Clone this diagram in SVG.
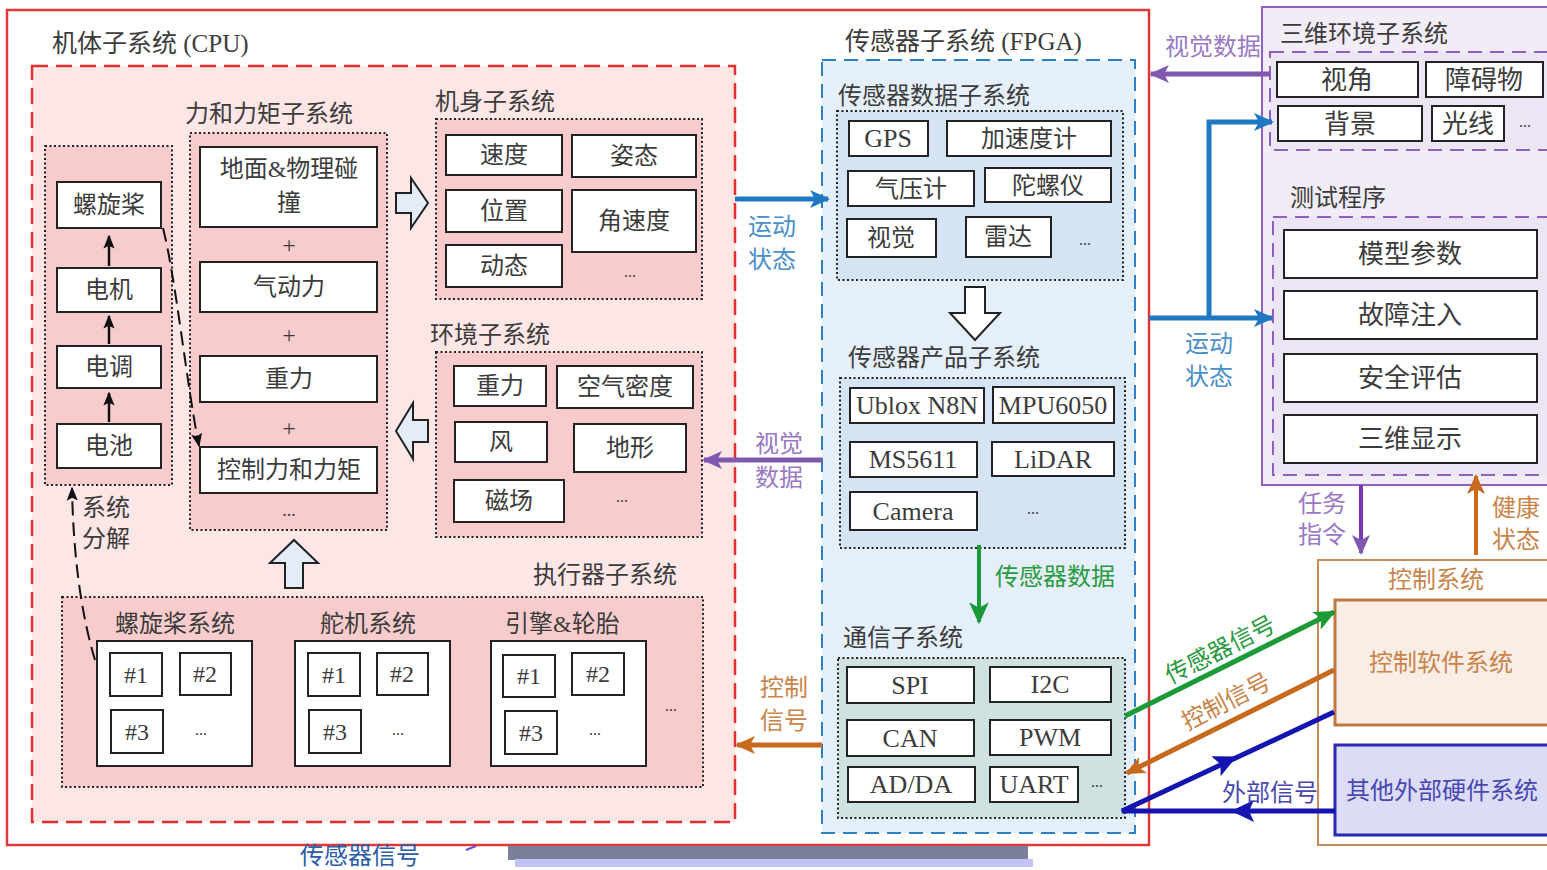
<svg xmlns="http://www.w3.org/2000/svg" width="1547" height="870" viewBox="0 0 1547 870">
<style>
.t{font-family:"Liberation Serif","Noto Sans CJK SC",serif;font-size:24px;fill:#3c3c3c}
.c{text-anchor:middle}
.lt{font-size:26px}
.box{fill:#fff;stroke:#222;stroke-width:2}
.dot{stroke:#222;stroke-width:2;stroke-dasharray:2 2.5}
.blk{fill:#e3ecf7;stroke:#222;stroke-width:2}
.blue{fill:#4a8fc8}.purp{fill:#9a78c4}.orng{fill:#c8844a}.grn{fill:#2a9a40}.dblue{fill:#4848b0}
</style>
<defs>
<marker id="ab" viewBox="0 0 20 20" refX="18" refY="10" markerWidth="20" markerHeight="20" markerUnits="userSpaceOnUse" orient="auto"><path d="M0,1 L20,10 L0,19 L5,10 z" fill="#1f78c1"/></marker>
<marker id="ap" viewBox="0 0 20 20" refX="18" refY="10" markerWidth="20" markerHeight="20" markerUnits="userSpaceOnUse" orient="auto"><path d="M0,1 L20,10 L0,19 L5,10 z" fill="#7f58b0"/></marker>
<marker id="ao" viewBox="0 0 20 20" refX="18" refY="10" markerWidth="20" markerHeight="20" markerUnits="userSpaceOnUse" orient="auto"><path d="M0,1 L20,10 L0,19 L5,10 z" fill="#c86a1e"/></marker>
<marker id="ag" viewBox="0 0 20 20" refX="18" refY="10" markerWidth="22" markerHeight="22" markerUnits="userSpaceOnUse" orient="auto"><path d="M0,1 L20,10 L0,19 L5,10 z" fill="#1c9a38"/></marker>
<marker id="ak" viewBox="0 0 20 20" refX="18" refY="10" markerWidth="14" markerHeight="14" markerUnits="userSpaceOnUse" orient="auto"><path d="M0,2 L20,10 L0,18 L4,10 z" fill="#111"/></marker>
</defs>

<!-- outer frame -->
<rect x="7" y="10" width="1142" height="835" fill="#fff" stroke="#e03838" stroke-width="2.5"/>

<!-- CPU body subsystem -->
<g id="cpu">
<rect x="32" y="66" width="703" height="756" fill="#fde6e6" stroke="#e03030" stroke-width="2.5" stroke-dasharray="16 8"/>
<text class="t" x="52" y="52" style="font-size:25px">机体子系统 (CPU)</text>
</g>

<g id="powertrain">
<rect class="dot" x="45" y="146" width="127" height="339" fill="#f8cccc"/>
<rect class="box" x="57" y="182" width="104" height="46"/><text class="t c" x="109" y="213">螺旋桨</text>
<rect class="box" x="57" y="268" width="104" height="44"/><text class="t c" x="109" y="298">电机</text>
<rect class="box" x="57" y="346" width="104" height="42"/><text class="t c" x="109" y="375">电调</text>
<rect class="box" x="57" y="424" width="104" height="44"/><text class="t c" x="109" y="454">电池</text>
</g>

<g id="force">
<text class="t" x="185" y="122">力和力矩子系统</text>
<rect class="dot" x="190" y="133" width="197" height="397" fill="#f8cccc"/>
<rect class="box" x="200" y="147" width="177" height="80"/>
<text class="t c" x="289" y="177">地面&amp;物理碰</text><text class="t c" x="289" y="211">撞</text>
<text class="t c" x="289" y="253" style="font-size:24px">+</text>
<rect class="box" x="200" y="262" width="177" height="50"/><text class="t c" x="289" y="295">气动力</text>
<text class="t c" x="289" y="343" style="font-size:24px">+</text>
<rect class="box" x="200" y="356" width="177" height="46"/><text class="t c" x="289" y="387">重力</text>
<text class="t c" x="289" y="436" style="font-size:24px">+</text>
<rect class="box" x="200" y="447" width="177" height="46"/><text class="t c" x="289" y="478">控制力和力矩</text>
<text class="t c" x="289" y="516" style="font-size:18px">...</text>
</g>

<g id="body">
<text class="t" x="435" y="110">机身子系统</text>
<rect class="dot" x="436" y="119" width="266" height="180" fill="#f8cccc"/>
<rect class="box" x="446" y="135" width="116" height="40"/><text class="t c" x="504" y="163">速度</text>
<rect class="box" x="572" y="135" width="124" height="42"/><text class="t c" x="634" y="164">姿态</text>
<rect class="box" x="446" y="190" width="116" height="42"/><text class="t c" x="504" y="219">位置</text>
<rect class="box" x="572" y="190" width="124" height="62"/><text class="t c" x="634" y="229">角速度</text>
<rect class="box" x="446" y="245" width="116" height="42"/><text class="t c" x="504" y="274">动态</text>
<text class="t c" x="630" y="277" style="font-size:16px">...</text>
</g>

<g id="env">
<text class="t" x="430" y="343">环境子系统</text>
<rect class="dot" x="436" y="352" width="266" height="185" fill="#f8cccc"/>
<rect class="box" x="454" y="366" width="92" height="40"/><text class="t c" x="500" y="394">重力</text>
<rect class="box" x="557" y="366" width="136" height="42"/><text class="t c" x="625" y="395">空气密度</text>
<rect class="box" x="455" y="422" width="92" height="40"/><text class="t c" x="501" y="450">风</text>
<rect class="box" x="574" y="424" width="112" height="48"/><text class="t c" x="630" y="456">地形</text>
<rect class="box" x="454" y="480" width="110" height="42"/><text class="t c" x="509" y="509">磁场</text>
<text class="t c" x="622" y="502" style="font-size:16px">...</text>
</g>

<g id="actuator">
<text class="t" x="677" y="583" style="text-anchor:end">执行器子系统</text>
<rect class="dot" x="62" y="597" width="641" height="190" fill="#f8cccc"/>
<text class="t" x="115" y="632">螺旋桨系统</text>
<text class="t" x="320" y="632">舵机系统</text>
<text class="t" x="505" y="632">引擎&amp;轮胎</text>
<rect class="box" x="97" y="641" width="155" height="125"/>
<rect class="box" x="110" y="653" width="52" height="43"/><text class="t c" x="136" y="683">#1</text>
<rect class="box" x="180" y="653" width="51" height="42"/><text class="t c" x="205" y="682">#2</text>
<rect class="box" x="111" y="710" width="52" height="43"/><text class="t c" x="137" y="740">#3</text>
<text class="t c" x="201" y="735" style="font-size:16px">...</text>
<rect class="box" x="295" y="641" width="155" height="125"/>
<rect class="box" x="308" y="653" width="52" height="43"/><text class="t c" x="334" y="683">#1</text>
<rect class="box" x="377" y="653" width="51" height="42"/><text class="t c" x="402" y="682">#2</text>
<rect class="box" x="309" y="710" width="52" height="43"/><text class="t c" x="335" y="740">#3</text>
<text class="t c" x="398" y="735" style="font-size:16px">...</text>
<rect class="box" x="491" y="641" width="155" height="125"/>
<rect class="box" x="503" y="655" width="52" height="42"/><text class="t c" x="529" y="684">#1</text>
<rect class="box" x="572" y="653" width="52" height="42"/><text class="t c" x="598" y="682">#2</text>
<rect class="box" x="505" y="711" width="52" height="43"/><text class="t c" x="531" y="741">#3</text>
<text class="t c" x="595" y="735" style="font-size:16px">...</text>
<text class="t c" x="671" y="711" style="font-size:16px">...</text>
</g>

<!-- FPGA sensor subsystem -->
<g id="fpga">
<rect x="822" y="60" width="313" height="773" fill="#e4eff9" stroke="#2f80c0" stroke-width="2" stroke-dasharray="14 8"/>
<text class="t" x="845" y="50" style="font-size:25px">传感器子系统 (FPGA)</text>
</g>

<g id="sensordata">
<text class="t" x="838" y="104">传感器数据子系统</text>
<rect class="dot" x="837" y="111" width="286" height="169" fill="#d4e4f3"/>
<rect class="box" x="849" y="121" width="79" height="35"/><text class="t c lt" x="888" y="147">GPS</text>
<rect class="box" x="947" y="121" width="164" height="35"/><text class="t c" x="1029" y="147">加速度计</text>
<rect class="box" x="848" y="171" width="126" height="35"/><text class="t c" x="911" y="197">气压计</text>
<rect class="box" x="985" y="168" width="126" height="34"/><text class="t c" x="1048" y="194">陀螺仪</text>
<rect class="box" x="847" y="219" width="89" height="38"/><text class="t c" x="891" y="246">视觉</text>
<rect class="box" x="966" y="217" width="85" height="40"/><text class="t c" x="1008" y="245">雷达</text>
<text class="t c" x="1085" y="245" style="font-size:16px">...</text>
</g>

<g id="sensorprod">
<text class="t" x="848" y="366">传感器产品子系统</text>
<rect class="dot" x="840" y="378" width="285" height="170" fill="#d4e4f3"/>
<rect class="box" x="850" y="388" width="134" height="35"/><text class="t c lt" x="917" y="414">Ublox N8N</text>
<rect class="box" x="993" y="387" width="121" height="36"/><text class="t c lt" x="1053" y="414">MPU6050</text>
<rect class="box" x="850" y="442" width="127" height="35"/><text class="t c lt" x="913" y="468">MS5611</text>
<rect class="box" x="992" y="442" width="122" height="34"/><text class="t c lt" x="1053" y="468">LiDAR</text>
<rect class="box" x="850" y="492" width="127" height="38"/><text class="t c lt" x="913" y="520">Camera</text>
<text class="t c" x="1033" y="514" style="font-size:16px">...</text>
</g>

<g id="comm">
<text class="t" x="843" y="646">通信子系统</text>
<rect class="dot" x="838" y="658" width="287" height="160" fill="#cde2e1"/>
<rect class="box" x="847" y="667" width="127" height="36"/><text class="t c lt" x="910" y="694">SPI</text>
<rect class="box" x="990" y="667" width="121" height="35"/><text class="t c lt" x="1050" y="693">I2C</text>
<rect class="box" x="847" y="720" width="127" height="36"/><text class="t c lt" x="910" y="747">CAN</text>
<rect class="box" x="990" y="720" width="121" height="35"/><text class="t c lt" x="1050" y="746">PWM</text>
<rect class="box" x="848" y="767" width="127" height="35"/><text class="t c lt" x="911" y="793">AD/DA</text>
<rect class="box" x="990" y="767" width="88" height="35"/><text class="t c lt" x="1034" y="793">UART</text>
<text class="t c" x="1097" y="787" style="font-size:16px">...</text>
</g>

<!-- right: 3D env + test -->
<g id="sim">
<rect x="1262" y="7" width="300" height="478" fill="#f1ecf6" stroke="#9060c0" stroke-width="2"/>
</g>
<g id="env3d">
<text class="t" x="1280" y="42">三维环境子系统</text>
<rect x="1270" y="52" width="290" height="98" fill="#ece5f4" stroke="#9060c0" stroke-width="2" stroke-dasharray="14 8"/>
<rect class="box" x="1277" y="62" width="141" height="35"/><text class="t c lt" x="1347" y="89">视角</text>
<rect class="box" x="1426" y="62" width="117" height="35"/><text class="t c lt" x="1484" y="89">障碍物</text>
<rect class="box" x="1278" y="106" width="144" height="35"/><text class="t c lt" x="1350" y="133">背景</text>
<rect class="box" x="1432" y="106" width="72" height="35"/><text class="t c lt" x="1468" y="133">光线</text>
<text class="t c" x="1525" y="127" style="font-size:16px">...</text>
</g>
<g id="testprog">
<text class="t" x="1290" y="206">测试程序</text>
<rect x="1273" y="217" width="290" height="258" fill="#ece5f4" stroke="#9060c0" stroke-width="2" stroke-dasharray="14 8"/>
<rect class="box" x="1284" y="230" width="253" height="48"/><text class="t c lt" x="1410" y="263">模型参数</text>
<rect class="box" x="1284" y="291" width="253" height="48"/><text class="t c lt" x="1410" y="324">故障注入</text>
<rect class="box" x="1284" y="354" width="253" height="48"/><text class="t c lt" x="1410" y="387">安全评估</text>
<rect class="box" x="1284" y="415" width="253" height="48"/><text class="t c lt" x="1410" y="448">三维显示</text>
</g>

<!-- control system -->
<g id="control">
<rect x="1318" y="560" width="240" height="285" fill="#fff" stroke="#c88a5a" stroke-width="2"/>
<text class="t orng" x="1388" y="588">控制系统</text>
</g>
<g id="ctrlsw">
<rect x="1335" y="600" width="222" height="125" fill="#f9ede6" stroke="#c07840" stroke-width="3"/>
<text class="t c orng" x="1441" y="671" style="font-size:24px">控制软件系统</text>
</g>
<g id="exthw">
<rect x="1335" y="745" width="222" height="90" fill="#dcdcf6" stroke="#2828b0" stroke-width="3"/>
<text class="t c dblue" x="1442" y="799" style="font-size:24px">其他外部硬件系统</text>
</g>

<!-- block arrows -->
<g id="blockarrows">
<path class="blk" d="M396,193 L411,193 L411,178 L428,203 L411,228 L411,213 L396,213 Z"/>
<path class="blk" d="M428,420 L413,420 L413,403 L396,431 L413,459 L413,442 L428,442 Z"/>
<path class="blk" d="M285,588 L285,563 L270,563 L294,540 L318,563 L303,563 L303,588 Z"/>
<path class="blk" d="M965,287 L985,287 L985,313 L1000,313 L975,340 L950,313 L965,313 Z" style="fill:#fff"/>
</g>

<!-- connectors -->
<g id="connectors" fill="none">
<line x1="109" y1="266" x2="109" y2="236" stroke="#111" stroke-width="2.5" marker-end="url(#ak)"/>
<line x1="109" y1="344" x2="109" y2="316" stroke="#111" stroke-width="2.5" marker-end="url(#ak)"/>
<line x1="109" y1="422" x2="109" y2="393" stroke="#111" stroke-width="2.5" marker-end="url(#ak)"/>
<path d="M163,228 C176,280 186,380 199,446" stroke="#111" stroke-width="2" stroke-dasharray="14 7" marker-end="url(#ak)"/>
<path d="M95,660 Q74,590 72,488" stroke="#111" stroke-width="2" stroke-dasharray="14 7" marker-end="url(#ak)"/>

<line x1="735" y1="199" x2="828" y2="199" stroke="#1f78c1" stroke-width="5" marker-end="url(#ab)"/>
<line x1="822" y1="460" x2="704" y2="460" stroke="#7f58b0" stroke-width="5" marker-end="url(#ap)"/>
<line x1="822" y1="745" x2="737" y2="745" stroke="#c86a1e" stroke-width="5" marker-end="url(#ao)"/>
<line x1="979" y1="545" x2="979" y2="622" stroke="#1c9a38" stroke-width="4" marker-end="url(#ag)"/>

<line x1="1270" y1="74" x2="1151" y2="74" stroke="#7f58b0" stroke-width="5" marker-end="url(#ap)"/>
<line x1="1149" y1="318" x2="1272" y2="318" stroke="#1f78c1" stroke-width="5" marker-end="url(#ab)"/>
<polyline points="1209,318 1209,122 1272,122" stroke="#1f78c1" stroke-width="5" marker-end="url(#ab)"/>
<line x1="1361" y1="485" x2="1361" y2="553" stroke="#7a38b8" stroke-width="4" marker-end="url(#ap)"/>
<line x1="1476" y1="555" x2="1476" y2="476" stroke="#d06a18" stroke-width="4" marker-end="url(#ao)"/>

<line x1="1125" y1="716" x2="1334" y2="612" stroke="#1c9a38" stroke-width="5" marker-end="url(#ag)"/>
<line x1="1334" y1="670" x2="1127" y2="773" stroke="#c86a1e" stroke-width="5" marker-end="url(#ao)"/>
<polyline points="1334,712 1122,811 1335,811" stroke="#1414b0" stroke-width="5"/>
<path d="M13,0 L-10,-11 L-5,0 L-10,11 Z" fill="#1414b0" transform="translate(1225,762) rotate(-25)"/>
<path d="M13,0 L-10,-11 L-5,0 L-10,11 Z" fill="#1414b0" transform="translate(1244,811) rotate(180)"/>
</g>

<!-- connector labels -->
<g id="labels">
<text class="t" x="82" y="516">系统</text>
<text class="t" x="82" y="547">分解</text>
<text class="t blue" x="748" y="235">运动</text>
<text class="t blue" x="748" y="268">状态</text>
<text class="t purp" x="755" y="452">视觉</text>
<text class="t purp" x="755" y="486">数据</text>
<text class="t orng" x="760" y="696">控制</text>
<text class="t orng" x="760" y="729">信号</text>
<text class="t grn" x="995" y="585">传感器数据</text>
<text class="t purp" x="1165" y="55">视觉数据</text>
<text class="t blue" x="1185" y="352">运动</text>
<text class="t blue" x="1185" y="385">状态</text>
<text class="t purp" x="1298" y="512">任务</text>
<text class="t purp" x="1298" y="543">指令</text>
<text class="t orng" x="1492" y="516">健康</text>
<text class="t orng" x="1492" y="548">状态</text>
<text class="t c grn" transform="translate(1224,657) rotate(-27)">传感器信号</text>
<text class="t c orng" transform="translate(1230,709) rotate(-27)">控制信号</text>
<text class="t dblue" x="1222" y="801">外部信号</text>
</g>

<!-- bottom fragments -->
<g id="bottom">
<text class="t" x="300" y="864" style="font-size:24px;fill:#2a5ca8">传感器信号</text>
<path d="M466,850 L476,846" stroke="#6a4ad0" stroke-width="2"/>
<rect x="508" y="846" width="520" height="14" fill="#7a7f9c"/>
<rect x="515" y="859" width="518" height="8" fill="#c4c4f4"/>
</g>
</svg>
